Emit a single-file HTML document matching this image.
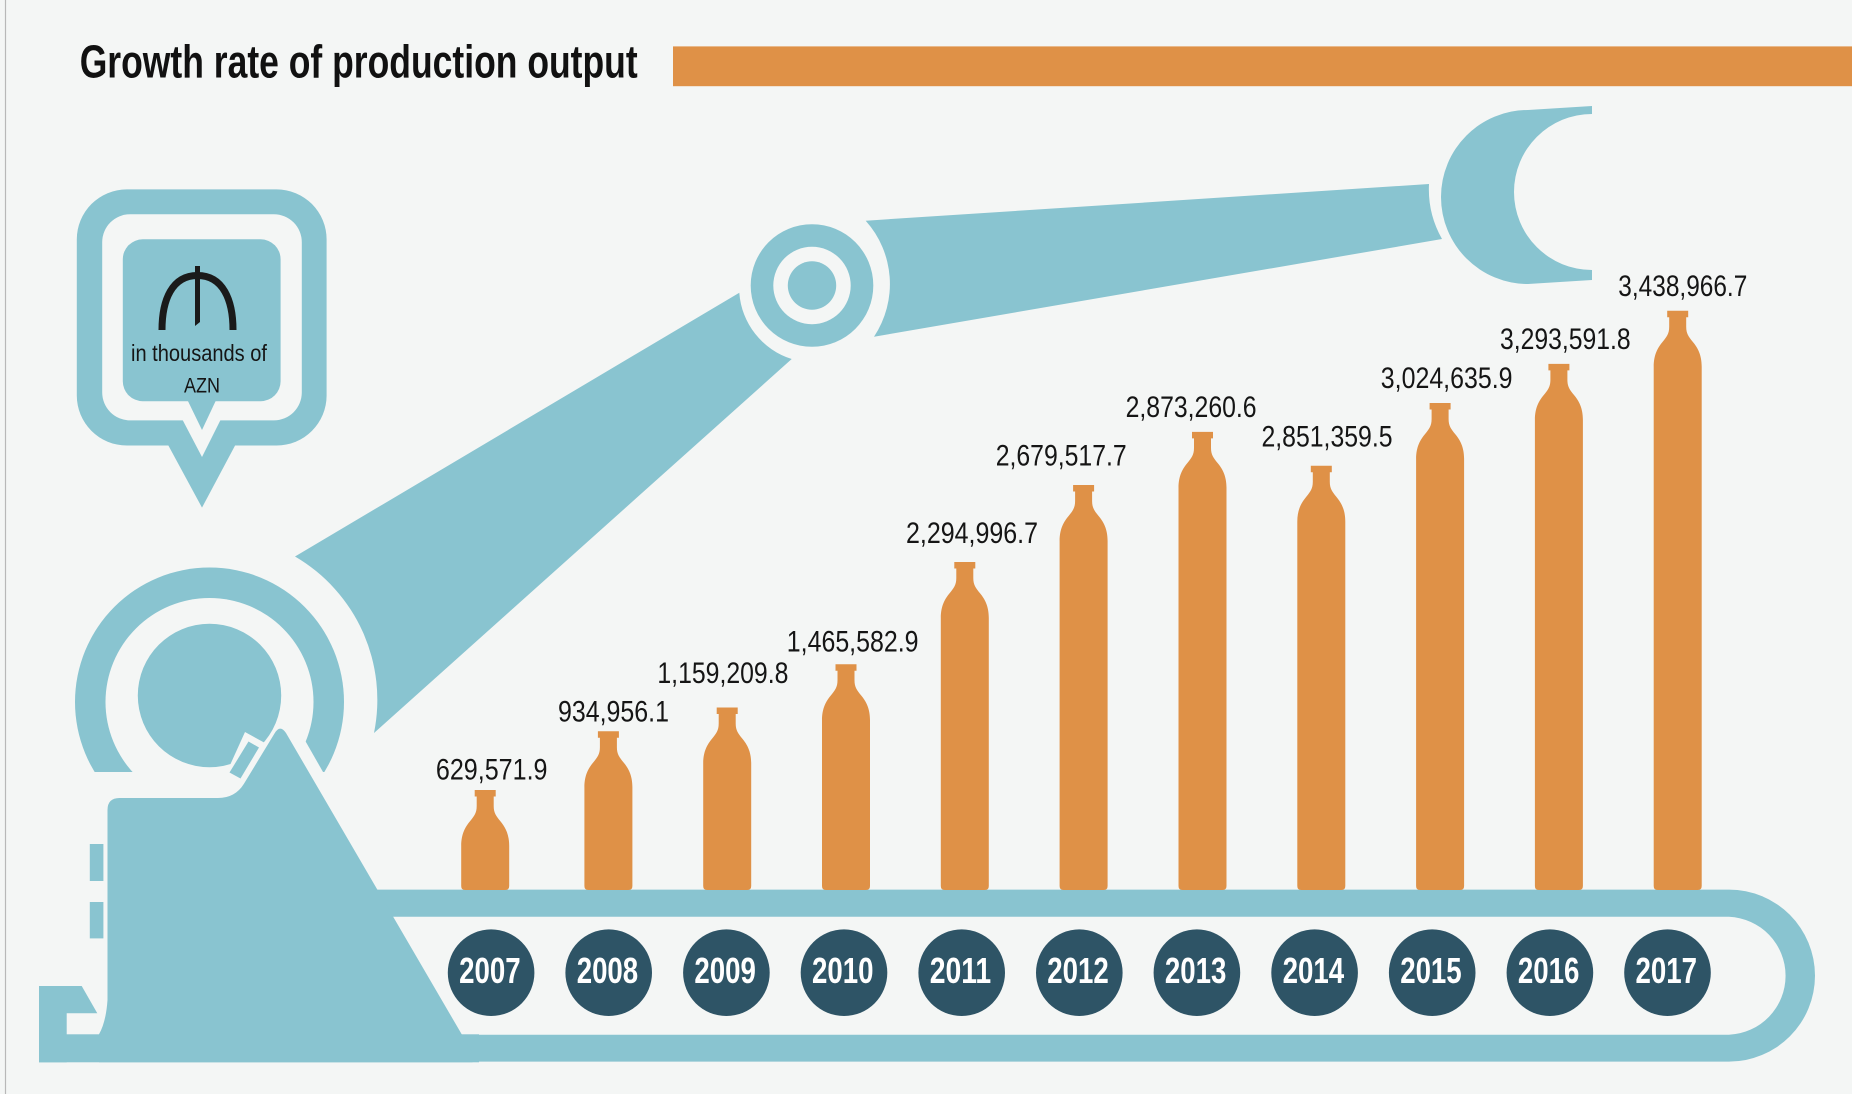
<!DOCTYPE html>
<html>
<head>
<meta charset="utf-8">
<style>
html,body{margin:0;padding:0;background:#f4f6f5;}
svg{display:block;}
.lbl{font-family:"Liberation Sans Narrow","Liberation Sans",sans-serif;font-size:30px;fill:#151515;}
.yr{font-family:"Liberation Sans Narrow","Liberation Sans",sans-serif;font-size:36px;font-weight:bold;fill:#ffffff;}
</style>
</head>
<body>
<svg width="1852" height="1094" viewBox="0 0 1852 1094" xmlns="http://www.w3.org/2000/svg">
<rect x="0" y="0" width="1852" height="1094" fill="#f4f6f5"/>
<line x1="5.5" y1="0" x2="5.5" y2="1094" stroke="#b8b8b8" stroke-width="1.2"/>

<!-- header -->
<rect x="673" y="46.4" width="1179" height="39.8" fill="#df9147"/>
<text x="79.7" y="77.4" font-family="'Liberation Sans Narrow','Liberation Sans',sans-serif" font-size="46" font-weight="bold" fill="#111" textLength="558" lengthAdjust="spacingAndGlyphs">Growth rate of production output</text>

<!-- speech bubble -->
<g fill="#89c4d0">
  <rect x="76.8" y="189.4" width="249.8" height="256.1" rx="50" ry="50"/>
  <polygon points="165.4,440 238,440 202,507.6"/>
</g>
<g fill="#f4f6f5">
  <rect x="102.2" y="214.2" width="199.6" height="206.2" rx="28" ry="28"/>
  <polygon points="180,415 223,415 202,457"/>
</g>
<g fill="#89c4d0">
  <rect x="122.8" y="239.3" width="157.8" height="161.9" rx="20" ry="20"/>
  <polygon points="185.5,396 218,396 202,430"/>
</g>
<!-- manat sign -->
<path d="M162,330 C162,300 172,275.5 197.5,275.5 C223,275.5 233,300 233,330" fill="none" stroke="#1a1a1a" stroke-width="7"/>
<path d="M195,266 L200,266 L200,322 L195,326 Z" fill="#1a1a1a"/>
<text x="131" y="361" font-family="'Liberation Sans Narrow','Liberation Sans',sans-serif" font-size="23" fill="#151515" textLength="136" lengthAdjust="spacingAndGlyphs">in thousands of</text>
<text x="184" y="392.5" font-family="'Liberation Sans Narrow','Liberation Sans',sans-serif" font-size="21" fill="#151515" textLength="36" lengthAdjust="spacingAndGlyphs">AZN</text>

<!-- robot arms -->
<g fill="#89c4d0">
  <path d="M739.3,292.7 L295,556.5 A166,166 0 0,1 374,733 L791.7,359 A75,75 0 0,1 739.3,292.7 Z"/>
  <path d="M865.7,220.7 L1429,184 A101,101 0 0,0 1442,239 L874,336.7 A95,95 0 0,0 865.7,220.7 Z"/>
  <!-- elbow -->
  <circle cx="812" cy="285.5" r="61.3"/>
</g>
<circle cx="812" cy="285.5" r="38.7" fill="#f4f6f5"/>
<circle cx="812" cy="285.5" r="24.2" fill="#89c4d0"/>
<!-- claw -->
<path d="M1592,106 L1528,110 A87,87 0 0,0 1528,284 L1592,280 L1592,270 A78,78 0 0,1 1592,114 Z" fill="#89c4d0"/>

<!-- base joint -->
<circle cx="209.5" cy="702" r="134.5" fill="#89c4d0"/>
<circle cx="209.5" cy="702" r="104" fill="#f4f6f5"/>
<circle cx="209.5" cy="695.5" r="71.7" fill="#89c4d0"/>
<rect x="60" y="772" width="285" height="68" fill="#f4f6f5"/>
<polygon points="276,722 294.5,722 339,800 310,800" fill="#f4f6f5"/>
<!-- link -->
<polygon points="245,732 265,743 241,782 226,774" fill="#f4f6f5"/>
<polygon points="248.5,741.5 259,747.5 240.5,778.5 229.5,772.5" fill="#89c4d0"/>

<!-- conveyor -->
<path d="M300,889.6 H1729 A86,86 0 0,1 1729,1061.6 H300 Z" fill="#89c4d0"/>
<path d="M300,916.8 H1729 A59,59 0 0,1 1729,1034.7 H300 Z" fill="#f4f6f5"/>

<!-- base -->
<g fill="#89c4d0">
  <rect x="39" y="1034.3" width="440" height="28"/>
  <rect x="39" y="986" width="27.7" height="76.3"/>
  <polygon points="39,986 81.7,986 97.3,1013.3 39,1013.3"/>
  <rect x="89.8" y="844" width="13.6" height="37"/>
  <rect x="89.8" y="902" width="13.6" height="36.4"/>
  <path d="M107.5,810 Q107.5,798 119.5,798 L218,798 Q235,798 243.8,784 L274.5,733.5 Q280,724 286,733 L472.5,1052.8 L472.5,1062.3 L99,1062.3 L99,1034.3 Q106,1022 107.5,1000 Z"/>
</g>

<!-- bottles -->
<g fill="#df9147">
  <path d="M474.7,790 h21 v6.5 h-2 v9.5 c0,7 2.5,10 6.5,15 c5,6 9,13 9,25 v40 q0,4 -4,4 h-40 q-4,0 -4,-4 v-40 c0,-12 4,-19 9,-25 c4,-5 6.5,-8 6.5,-15 v-9.5 h-2 z"/>
  <path d="M597.9,731.2 h21 v6.5 h-2 v9.5 c0,7 2.5,10 6.5,15 c5,6 9,13 9,25 v98.8 q0,4 -4,4 h-40 q-4,0 -4,-4 v-98.8 c0,-12 4,-19 9,-25 c4,-5 6.5,-8 6.5,-15 v-9.5 h-2 z"/>
  <path d="M716.7,707.5 h21 v6.5 h-2 v9.5 c0,7 2.5,10 6.5,15 c5,6 9,13 9,25 v122.5 q0,4 -4,4 h-40 q-4,0 -4,-4 v-122.5 c0,-12 4,-19 9,-25 c4,-5 6.5,-8 6.5,-15 v-9.5 h-2 z"/>
  <path d="M835.5,664.2 h21 v6.5 h-2 v9.5 c0,7 2.5,10 6.5,15 c5,6 9,13 9,25 v165.8 q0,4 -4,4 h-40 q-4,0 -4,-4 v-165.8 c0,-12 4,-19 9,-25 c4,-5 6.5,-8 6.5,-15 v-9.5 h-2 z"/>
  <path d="M954.3,562 h21 v6.5 h-2 v9.5 c0,7 2.5,10 6.5,15 c5,6 9,13 9,25 v268 q0,4 -4,4 h-40 q-4,0 -4,-4 v-268 c0,-12 4,-19 9,-25 c4,-5 6.5,-8 6.5,-15 v-9.5 h-2 z"/>
  <path d="M1073.1,485 h21 v6.5 h-2 v9.5 c0,7 2.5,10 6.5,15 c5,6 9,13 9,25 v345 q0,4 -4,4 h-40 q-4,0 -4,-4 v-345 c0,-12 4,-19 9,-25 c4,-5 6.5,-8 6.5,-15 v-9.5 h-2 z"/>
  <path d="M1192,431.9 h21 v6.5 h-2 v9.5 c0,7 2.5,10 6.5,15 c5,6 9,13 9,25 v398.1 q0,4 -4,4 h-40 q-4,0 -4,-4 v-398.1 c0,-12 4,-19 9,-25 c4,-5 6.5,-8 6.5,-15 v-9.5 h-2 z"/>
  <path d="M1310.8,465.7 h21 v6.5 h-2 v9.5 c0,7 2.5,10 6.5,15 c5,6 9,13 9,25 v364.3 q0,4 -4,4 h-40 q-4,0 -4,-4 v-364.3 c0,-12 4,-19 9,-25 c4,-5 6.5,-8 6.5,-15 v-9.5 h-2 z"/>
  <path d="M1429.6,403 h21 v6.5 h-2 v9.5 c0,7 2.5,10 6.5,15 c5,6 9,13 9,25 v427 q0,4 -4,4 h-40 q-4,0 -4,-4 v-427 c0,-12 4,-19 9,-25 c4,-5 6.5,-8 6.5,-15 v-9.5 h-2 z"/>
  <path d="M1548.4,363.9 h21 v6.5 h-2 v9.5 c0,7 2.5,10 6.5,15 c5,6 9,13 9,25 v466.1 q0,4 -4,4 h-40 q-4,0 -4,-4 v-466.1 c0,-12 4,-19 9,-25 c4,-5 6.5,-8 6.5,-15 v-9.5 h-2 z"/>
  <path d="M1667.2,310.7 h21 v6.5 h-2 v9.5 c0,7 2.5,10 6.5,15 c5,6 9,13 9,25 v519.3 q0,4 -4,4 h-40 q-4,0 -4,-4 v-519.3 c0,-12 4,-19 9,-25 c4,-5 6.5,-8 6.5,-15 v-9.5 h-2 z"/>
</g>

<!-- value labels -->
<text class="lbl" x="435.9" y="779.3" textLength="111.6" lengthAdjust="spacingAndGlyphs">629,571.9</text>
<text class="lbl" x="558" y="721.4" textLength="111" lengthAdjust="spacingAndGlyphs">934,956.1</text>
<text class="lbl" x="657.4" y="683" textLength="131" lengthAdjust="spacingAndGlyphs">1,159,209.8</text>
<text class="lbl" x="786.8" y="651.7" textLength="131.7" lengthAdjust="spacingAndGlyphs">1,465,582.9</text>
<text class="lbl" x="906" y="542.8" textLength="132" lengthAdjust="spacingAndGlyphs">2,294,996.7</text>
<text class="lbl" x="995.7" y="465.7" textLength="131" lengthAdjust="spacingAndGlyphs">2,679,517.7</text>
<text class="lbl" x="1125.6" y="416.9" textLength="131" lengthAdjust="spacingAndGlyphs">2,873,260.6</text>
<text class="lbl" x="1261.5" y="446.5" textLength="131" lengthAdjust="spacingAndGlyphs">2,851,359.5</text>
<text class="lbl" x="1380.8" y="388" textLength="131.7" lengthAdjust="spacingAndGlyphs">3,024,635.9</text>
<text class="lbl" x="1500" y="348.9" textLength="130.6" lengthAdjust="spacingAndGlyphs">3,293,591.8</text>
<text class="lbl" x="1618.3" y="296" textLength="129" lengthAdjust="spacingAndGlyphs">3,438,966.7</text>

<!-- year circles -->
<g fill="#2e5466">
  <circle cx="491.1" cy="972.7" r="43.3"/>
  <circle cx="608.7" cy="972.7" r="43.3"/>
  <circle cx="726.4" cy="972.7" r="43.3"/>
  <circle cx="844.0" cy="972.7" r="43.3"/>
  <circle cx="961.7" cy="972.7" r="43.3"/>
  <circle cx="1079.3" cy="972.7" r="43.3"/>
  <circle cx="1196.9" cy="972.7" r="43.3"/>
  <circle cx="1314.6" cy="972.7" r="43.3"/>
  <circle cx="1432.2" cy="972.7" r="43.3"/>
  <circle cx="1549.9" cy="972.7" r="43.3"/>
  <circle cx="1667.5" cy="972.7" r="43.3"/>
</g>
<text class="yr" x="459.1" y="983" textLength="61.5" lengthAdjust="spacingAndGlyphs">2007</text>
<text class="yr" x="576.7" y="983" textLength="61.5" lengthAdjust="spacingAndGlyphs">2008</text>
<text class="yr" x="694.4" y="983" textLength="61.5" lengthAdjust="spacingAndGlyphs">2009</text>
<text class="yr" x="812.0" y="983" textLength="61.5" lengthAdjust="spacingAndGlyphs">2010</text>
<text class="yr" x="929.7" y="983" textLength="61.5" lengthAdjust="spacingAndGlyphs">2011</text>
<text class="yr" x="1047.3" y="983" textLength="61.5" lengthAdjust="spacingAndGlyphs">2012</text>
<text class="yr" x="1164.9" y="983" textLength="61.5" lengthAdjust="spacingAndGlyphs">2013</text>
<text class="yr" x="1282.6" y="983" textLength="61.5" lengthAdjust="spacingAndGlyphs">2014</text>
<text class="yr" x="1400.2" y="983" textLength="61.5" lengthAdjust="spacingAndGlyphs">2015</text>
<text class="yr" x="1517.9" y="983" textLength="61.5" lengthAdjust="spacingAndGlyphs">2016</text>
<text class="yr" x="1635.5" y="983" textLength="61.5" lengthAdjust="spacingAndGlyphs">2017</text>
</svg>
</body>
</html>
